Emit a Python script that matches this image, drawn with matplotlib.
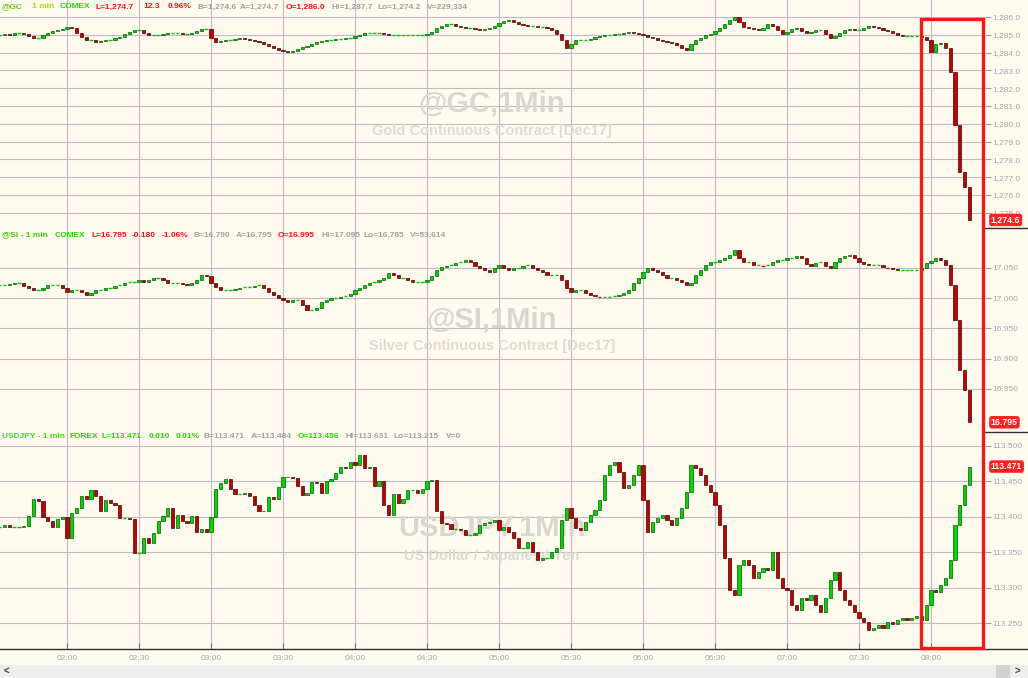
import numpy as np
import matplotlib.pyplot as plt
from matplotlib.patches import Rectangle
from matplotlib.lines import Line2D
from matplotlib.ticker import FuncFormatter

W, H = 1028, 678
BG = '#fffbef'
GRID = '#bfbac6'
LBL = '#a6a6ae'
UP_FILL, UP_EDGE = '#00d800', '#005a00'
DN_FILL, DN_EDGE = '#c80000', '#3c0000'

# 2-minute bars, first bar at 01:32 (minutes after midnight)
start_min = 92

gold = [1284.99, 1285.04, 1284.99, 1285.10, 1285.10, 1285.04, 1284.93, 1284.82, 1284.82, 1284.99,
        1285.10, 1285.21, 1285.27, 1285.33, 1285.44, 1285.38, 1285.10, 1284.88, 1284.71, 1284.71,
        1284.60, 1284.65, 1284.71, 1284.71, 1284.82, 1284.88, 1285.04, 1285.16, 1285.27, 1285.27,
        1285.10, 1284.99, 1284.99, 1284.99, 1285.04, 1285.10, 1285.10, 1285.10, 1285.04, 1285.04,
        1285.10, 1285.21, 1285.33, 1285.33, 1284.82, 1284.60, 1284.65, 1284.71, 1284.71, 1284.76,
        1284.82, 1284.76, 1284.71, 1284.65, 1284.60, 1284.48, 1284.37, 1284.26, 1284.15, 1284.09,
        1284.03, 1284.09, 1284.20, 1284.31, 1284.37, 1284.48, 1284.60, 1284.65, 1284.71, 1284.71,
        1284.76, 1284.76, 1284.82, 1284.82, 1284.93, 1284.99, 1285.10, 1285.10, 1285.10, 1285.10,
        1285.04, 1284.99, 1284.99, 1284.99, 1284.99, 1284.99, 1284.99, 1284.99, 1284.99, 1285.04,
        1285.16, 1285.38, 1285.49, 1285.61, 1285.61, 1285.49, 1285.44, 1285.38, 1285.38, 1285.33,
        1285.27, 1285.33, 1285.38, 1285.49, 1285.66, 1285.78, 1285.83, 1285.72, 1285.61, 1285.55,
        1285.49, 1285.49, 1285.44, 1285.44, 1285.38, 1285.27, 1285.04, 1284.71, 1284.26, 1284.48,
        1284.71, 1284.71, 1284.71, 1284.76, 1284.88, 1284.93, 1284.99, 1284.99, 1285.04, 1285.04,
        1285.10, 1285.16, 1285.10, 1285.04, 1284.99, 1284.88, 1284.82, 1284.71, 1284.65, 1284.60,
        1284.54, 1284.43, 1284.26, 1284.15, 1284.48, 1284.71, 1284.82, 1284.99, 1285.04, 1285.21,
        1285.38, 1285.61, 1285.83, 1286.00, 1285.72, 1285.44, 1285.38, 1285.33, 1285.27, 1285.38,
        1285.61, 1285.49, 1285.27, 1285.04, 1285.16, 1285.33, 1285.38, 1285.21, 1285.10, 1285.16,
        1285.27, 1285.27, 1285.04, 1284.82, 1284.93, 1285.10, 1285.27, 1285.33, 1285.27, 1285.27,
        1285.38, 1285.49, 1285.44, 1285.38, 1285.27, 1285.21, 1285.10, 1284.99, 1284.93, 1284.93,
        1284.93, 1284.93, 1284.88, 1284.71, 1284.03, 1284.48, 1284.54, 1284.26, 1282.91, 1279.93,
        1277.29, 1276.45, 1274.60]

silver = [17.021, 17.021, 17.023, 17.025, 17.025, 17.020, 17.017, 17.013, 17.013, 17.017,
          17.021, 17.021, 17.021, 17.017, 17.010, 17.013, 17.013, 17.010, 17.005, 17.008,
          17.013, 17.013, 17.017, 17.017, 17.020, 17.021, 17.025, 17.026, 17.026, 17.030,
          17.026, 17.030, 17.033, 17.033, 17.030, 17.025, 17.025, 17.025, 17.023, 17.021,
          17.025, 17.030, 17.038, 17.036, 17.025, 17.018, 17.013, 17.013, 17.013, 17.015,
          17.017, 17.018, 17.018, 17.020, 17.021, 17.017, 17.010, 17.005, 17.000, 16.997,
          16.993, 16.997, 16.997, 16.988, 16.980, 16.980, 16.983, 16.993, 16.997, 17.000,
          17.000, 17.002, 17.003, 17.007, 17.013, 17.017, 17.021, 17.025, 17.026, 17.030,
          17.033, 17.041, 17.038, 17.033, 17.033, 17.030, 17.026, 17.026, 17.026, 17.030,
          17.036, 17.046, 17.051, 17.053, 17.054, 17.058, 17.059, 17.063, 17.059, 17.053,
          17.050, 17.046, 17.043, 17.050, 17.054, 17.050, 17.046, 17.050, 17.050, 17.053,
          17.054, 17.050, 17.046, 17.043, 17.038, 17.038, 17.038, 17.030, 17.017, 17.010,
          17.013, 17.013, 17.008, 17.005, 17.003, 17.002, 17.002, 17.002, 17.003, 17.005,
          17.008, 17.013, 17.025, 17.033, 17.043, 17.050, 17.046, 17.043, 17.038, 17.033,
          17.033, 17.030, 17.026, 17.021, 17.025, 17.038, 17.046, 17.054, 17.059, 17.059,
          17.063, 17.066, 17.071, 17.079, 17.066, 17.059, 17.059, 17.054, 17.054, 17.053,
          17.054, 17.059, 17.063, 17.063, 17.066, 17.066, 17.069, 17.066, 17.056, 17.053,
          17.058, 17.059, 17.053, 17.050, 17.059, 17.066, 17.069, 17.071, 17.066, 17.059,
          17.056, 17.054, 17.054, 17.054, 17.051, 17.050, 17.048, 17.046, 17.046, 17.046,
          17.046, 17.046, 17.050, 17.058, 17.061, 17.066, 17.063, 17.054, 17.021, 16.964,
          16.881, 16.848, 16.795]

usdjpy = [113.386, 113.389, 113.386, 113.386, 113.386, 113.387, 113.402, 113.425, 113.422, 113.400,
          113.394, 113.386, 113.397, 113.400, 113.370, 113.405, 113.412, 113.429, 113.426, 113.438,
          113.429, 113.409, 113.424, 113.419, 113.417, 113.398, 113.398, 113.397, 113.349, 113.349,
          113.370, 113.363, 113.377, 113.395, 113.401, 113.412, 113.384, 113.403, 113.394, 113.391,
          113.401, 113.379, 113.383, 113.379, 113.400, 113.440, 113.448, 113.453, 113.440, 113.433,
          113.433, 113.434, 113.430, 113.417, 113.409, 113.408, 113.428, 113.425, 113.442, 113.457,
          113.456, 113.455, 113.443, 113.431, 113.434, 113.449, 113.448, 113.434, 113.450, 113.453,
          113.462, 113.471, 113.469, 113.478, 113.473, 113.487, 113.469, 113.471, 113.443, 113.451,
          113.417, 113.403, 113.433, 113.419, 113.425, 113.438, 113.438, 113.434, 113.439, 113.450,
          113.452, 113.408, 113.392, 113.390, 113.383, 113.383, 113.381, 113.375, 113.375, 113.377,
          113.389, 113.392, 113.393, 113.396, 113.381, 113.386, 113.379, 113.370, 113.356, 113.356,
          113.365, 113.351, 113.339, 113.342, 113.342, 113.351, 113.356, 113.396, 113.413, 113.399,
          113.385, 113.382, 113.393, 113.403, 113.410, 113.424, 113.459, 113.473, 113.477, 113.463,
          113.441, 113.445, 113.459, 113.473, 113.424, 113.379, 113.393, 113.399, 113.403, 113.396,
          113.389, 113.399, 113.413, 113.435, 113.473, 113.469, 113.459, 113.445, 113.435, 113.417,
          113.389, 113.342, 113.297, 113.290, 113.332, 113.339, 113.332, 113.314, 113.323, 113.328,
          113.325, 113.351, 113.314, 113.300, 113.297, 113.276, 113.269, 113.286, 113.283, 113.290,
          113.276, 113.266, 113.286, 113.311, 113.323, 113.297, 113.283, 113.276, 113.266, 113.258,
          113.252, 113.241, 113.244, 113.248, 113.244, 113.252, 113.249, 113.255, 113.258, 113.255,
          113.258, 113.261, 113.255, 113.276, 113.297, 113.294, 113.304, 113.314, 113.339, 113.389,
          113.417, 113.445, 113.471]

gold_ticks = [1275, 1276, 1277, 1278, 1279, 1280, 1281, 1282, 1283, 1284, 1285, 1286]
silver_ticks = [16.85, 16.90, 16.95, 17.00, 17.05]
usdjpy_ticks = [113.25, 113.30, 113.35, 113.40, 113.45, 113.50]
time_ticks = [120, 150, 180, 210, 240, 270, 300, 330, 360, 390, 420, 450, 480]
time_labels = ['02:00', '02:30', '03:00', '03:30', '04:00', '04:30', '05:00',
               '05:30', '06:00', '06:30', '07:00', '07:30', '08:00']

gold_head = [(2, '@GC', '#66cc00'), (32, '1 min', '#a8dc00'), (60, 'COMEX', '#22dd00'),
             (96, 'L=1,274.7', '#ff1010'), (143, '12.3', '#ff1010'), (168, '0.96%', '#ff1010'),
             (197, 'B=1,274.6', '#a0a0a0'), (240, 'A=1,274.7', '#a0a0a0'),
             (286, 'O=1,286.0', '#ff1010'), (331, 'Hi=1,287.7', '#a0a0a0'),
             (377, 'Lo=1,274.2', '#a0a0a0'), (427, 'V=229,334', '#a0a0a0')]
silver_head = [(2, '@SI - 1 min', '#44cc00'), (55, 'COMEX', '#22dd00'),
               (92, 'L=16.795', '#ff1010'), (132, '-0.180', '#ff1010'), (162, '-1.06%', '#ff1010'),
               (194, 'B=16.790', '#a0a0a0'), (236, 'A=16.795', '#a0a0a0'),
               (278, 'O=16.995', '#ff1010'), (321, 'Hi=17.095', '#a0a0a0'),
               (364, 'Lo=16.785', '#a0a0a0'), (410, 'V=53,614', '#a0a0a0')]
usd_head = [(2, 'USDJPY - 1 min', '#44dd00'), (70, 'FOREX', '#22dd00'),
            (102, 'L=113.471', '#22dd00'), (149, '0.010', '#22dd00'), (176, '0.01%', '#22dd00'),
            (204, 'B=113.471', '#a0a0a0'), (251, 'A=113.484', '#a0a0a0'),
            (298, 'O=113.456', '#22dd00'), (345, 'HI=113.631', '#a0a0a0'),
            (394, 'Lo=113.215', '#a0a0a0'), (446, 'V=0', '#a0a0a0')]

plt.rcParams['font.family'] = ['Liberation Sans', 'DejaVu Sans']

fig = plt.figure(figsize=(W / 100, H / 100), dpi=100, facecolor=BG)


def make_axes(top, bottom):
    return fig.add_axes([0, 1 - bottom / H, 985 / W, (bottom - top) / H])


def draw_candles(ax, close):
    c = np.array(close, dtype=float)
    o = np.r_[c[0], c[:-1]]
    t = start_min + 2 * np.arange(len(c))
    lo, hi = ax.get_ylim()
    flat = np.abs(c - o) < (hi - lo) * 0.003
    up = (c > o) & ~flat
    dn = (c < o) & ~flat
    ax.bar(t[up], (c - o)[up], bottom=o[up], width=1.3, color=UP_FILL,
           edgecolor=UP_EDGE, linewidth=0.5, zorder=3)
    ax.bar(t[dn], (o - c)[dn], bottom=c[dn], width=1.3, color=DN_FILL,
           edgecolor=DN_EDGE, linewidth=0.5, zorder=3)
    ax.hlines(c[flat], t[flat] - 0.7, t[flat] + 0.7,
              colors=np.where(c[flat] >= o[flat], '#00c800', '#e00000'), lw=1.0, zorder=3)


def style_axes(ax, ylim, ticks, fmt, bottom=False):
    ax.set_facecolor(BG)
    ax.set_xlim(92.1, 502.5)
    ax.set_ylim(*ylim)
    for s in ax.spines.values():
        s.set_visible(False)
    ax.set_xticks(time_ticks)
    ax.set_yticks(ticks)
    ax.yaxis.tick_right()
    ax.yaxis.set_major_formatter(FuncFormatter(lambda v, p: fmt.format(v)))
    ax.tick_params(axis='y', direction='out', length=4, color='#9c9c9c',
                   labelcolor=LBL, labelsize=6, pad=1)
    if bottom:
        ax.set_xticklabels(time_labels)
        ax.tick_params(axis='x', direction='in', length=4, color='#777777',
                       labelcolor=LBL, labelsize=6, pad=4)
    else:
        ax.tick_params(axis='x', length=0, labelbottom=False)
    ax.grid(True, color=GRID, lw=0.8)
    ax.set_axisbelow(True)


def header(y, parts):
    for x, txt, col in parts:
        fig.text(x / W, 1 - y / H, txt, color=col, fontsize=6.0, fontweight='bold',
                 va='center', ha='left', zorder=6)


def watermark(ax, y1, y2, big, small):
    ax.text(492 / W, 1 - y1 / H, big, transform=fig.transFigure, ha='center', va='center',
            fontsize=21, fontweight='bold', color='#dad7cf', zorder=1)
    ax.text(492 / W, 1 - y2 / H, small, transform=fig.transFigure, ha='center', va='center',
            fontsize=10.5, fontweight='bold', color='#dedbd3', zorder=1)


def last_tag(ax, value, txt):
    ax.text(1.006, value, txt, transform=ax.get_yaxis_transform(), ha='left', va='center',
            color='white', fontsize=6.3, fontweight='bold', zorder=8,
            bbox=dict(boxstyle='round,pad=0.2,rounding_size=0.3', fc='#ff2020', ec='none'))


ax_g = make_axes(0, 228)
ax_s = make_axes(228, 432)
ax_u = make_axes(432, 649)

style_axes(ax_g, (1274.146, 1286.955), gold_ticks, '{:,.1f}')
style_axes(ax_s, (16.779, 17.1155), silver_ticks, '{:.3f}')
style_axes(ax_u, (113.214, 113.5197), usdjpy_ticks, '{:.3f}', bottom=True)

watermark(ax_g, 103, 131, '@GC,1Min', 'Gold Continuous Contract [Dec17]')
watermark(ax_s, 320, 346, '@SI,1Min', 'Silver Continuous Contract [Dec17]')
watermark(ax_u, 528, 556, 'USDJPY,1Min', 'US Dollar / Japanese Yen')

draw_candles(ax_g, gold)
draw_candles(ax_s, silver)
draw_candles(ax_u, usdjpy)

last_tag(ax_g, gold[-1], '1,274.6')
last_tag(ax_s, silver[-1], '16.795')
last_tag(ax_u, usdjpy[-1], '113.471')

header(7, gold_head)
header(235, silver_head)
header(437, usd_head)

# panel separators on the price scale side and bottom time axis line
for yy in (228, 432):
    fig.add_artist(Line2D([985 / W, 1], [1 - yy / H] * 2, color='#303030', lw=1.0))
fig.add_artist(Line2D([0, 1], [1 - 649 / H] * 2, color='#303030', lw=1.0))

# highlight box around the sell-off
fig.add_artist(Rectangle((921 / W, 1 - 648 / H), 62 / W, 629 / H, transform=fig.transFigure,
                         fill=False, ec='#ff1414', lw=2.4, zorder=10))

# scroll bar strip
fig.add_artist(Rectangle((0, 0), 1, 13 / H, transform=fig.transFigure,
                         fc='#eeeeee', ec='none', zorder=1))
fig.add_artist(Rectangle((996 / W, 0), 14 / W, 13 / H, transform=fig.transFigure,
                         fc='#d2d2d2', ec='none', zorder=2))
fig.text(6 / W, 6.5 / H, '<', fontsize=7, fontweight='bold', color='#444444', ha='center', va='center')
fig.text(1017 / W, 6.5 / H, '>', fontsize=7, fontweight='bold', color='#444444', ha='center', va='center')

fig.savefig('out.png', dpi=100, facecolor=BG)
